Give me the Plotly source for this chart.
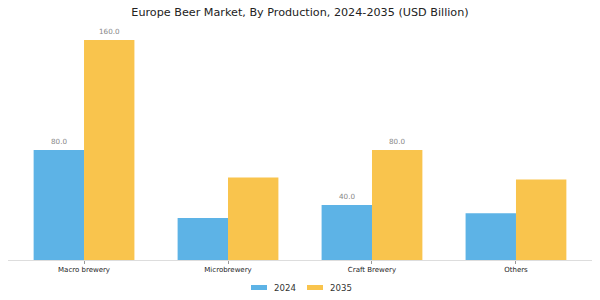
import plotly.graph_objects as go

categories = ["Macro brewery", "Microbrewery", "Craft Brewery", "Others"]
series_names = ["2024", "2035"]
v2024 = [80.0, 30.5, 40.0, 34.0]
v2035 = [160.0, 60.0, 80.0, 58.5]
labels2024 = ["80.0", "", "40.0", ""]
labels2035 = ["160.0", "", "80.0", ""]
colors = ["#5DB3E6", "#F9C44D"]

L, R, T, B = 8, 8, 30, 40
W, H = 600, 300
pw = W - L - R
ph = H - T - B

fig = go.Figure()
fig.add_trace(go.Bar(x=categories, y=v2024, name=series_names[0], marker_color=colors[0],
                     marker_line_width=0, showlegend=False))
fig.add_trace(go.Bar(x=categories, y=v2035, name=series_names[1], marker_color=colors[1],
                     marker_line_width=0, showlegend=False))

for i, c in enumerate(categories):
    if labels2024[i]:
        fig.add_annotation(x=c, y=v2024[i], text=labels2024[i], showarrow=False,
                           xshift=-25, yshift=9, font=dict(size=7.2, color="#888888"))
    if labels2035[i]:
        fig.add_annotation(x=c, y=v2035[i], text=labels2035[i], showarrow=False,
                           xshift=25, yshift=9, font=dict(size=7.2, color="#888888"))

# custom legend (pixel-based placement converted to paper coords)
def px_x(p):
    return (p - L) / pw

def px_y(p):
    return (H - B - p) / ph

legend_items = [(251, colors[0], series_names[0]), (307, colors[1], series_names[1])]
for x0, col, name in legend_items:
    fig.add_shape(type="rect", xref="paper", yref="paper",
                  x0=px_x(x0), x1=px_x(x0 + 16), y0=px_y(285), y1=px_y(290),
                  fillcolor=col, line_width=0)
    fig.add_annotation(xref="paper", yref="paper", x=px_x(x0 + 21), y=px_y(287.5),
                       xanchor="left", yanchor="middle", text=name, showarrow=False,
                       font=dict(size=8.6, color="#333333"))

fig.update_layout(
    width=W, height=H,
    margin=dict(l=L, r=R, t=T, b=B),
    paper_bgcolor="white", plot_bgcolor="white",
    barmode="group", bargap=0.3, bargroupgap=0,
    showlegend=False,
    title=dict(text="Europe Beer Market, By Production, 2024-2035 (USD Billion)",
               x=0.5, xanchor="center", y=1 - 12 / H, yanchor="middle",
               font=dict(family="DejaVu Sans", size=11.2, color="#222222")),
    font=dict(family="DejaVu Sans"),
    xaxis=dict(showline=True, linecolor="#DDDDDD", ticks="outside", ticklen=3,
               tickcolor="#999999", tickfont=dict(size=7, color="#222222"),
               showgrid=False, range=[-0.528, 3.528], automargin=False),
    yaxis=dict(visible=False, range=[0, 167.3], showgrid=False, automargin=False),
)

fig.write_html("out.html")
